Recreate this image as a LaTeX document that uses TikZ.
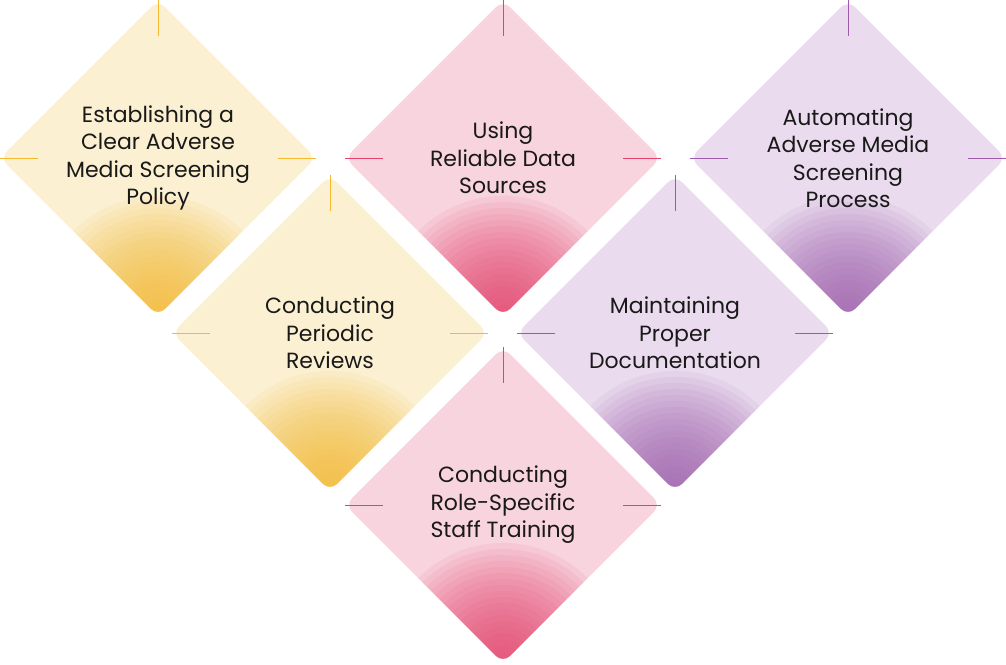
\documentclass[tikz,border=0pt]{standalone}
\usepackage{fontspec}
\setmainfont{Poppins}
\usetikzlibrary{shapes.geometric}

\definecolor{ylight}{HTML}{FCF0D2}
\definecolor{ydark}{HTML}{F4B92F}
\definecolor{plight}{HTML}{F8D4DE}
\definecolor{pdark}{HTML}{E6406B}
\definecolor{vlight}{HTML}{EADCEE}
\definecolor{vdark}{HTML}{9E5BAC}

\tikzset{
  card/.style 2 args={diamond,minimum width=316pt,minimum height=316pt,inner sep=0pt,
    rounded corners=10pt,fill=#1,
    path picture={\foreach \r in {6,12,...,120}
      \fill[#2,opacity=0.075] (path picture bounding box.south) circle (\r pt);}},
  caption/.style={align=center,font=\fontsize{22}{27.5}\selectfont,text=black!90},
  tick/.style={line width=0.6pt}
}

\begin{document}
\begin{tikzpicture}[x=1pt,y=-1pt]
\useasboundingbox (0,0) rectangle (1006,664);

\node (policy) at (158,158) [card={ylight}{ydark}] {};
\node (sources) at (503,158) [card={plight}{pdark}] {};
\node (automate) at (848,158) [card={vlight}{vdark}] {};
\node (reviews) at (330,333) [card={ylight}{ydark}] {};
\node (docs) at (675,333) [card={vlight}{vdark}] {};
\node (training) at (503,505) [card={plight}{pdark}] {};

\node (policy-text) at (policy) [caption] {Establishing a\\Clear Adverse\\Media Screening\\Policy};
\node (sources-text) at (sources) [caption] {Using\\Reliable Data\\Sources};
\node (automate-text) at (automate) [caption] {Automating\\Adverse Media\\Screening\\Process};
\node (reviews-text) at (reviews) [caption] {Conducting\\Periodic\\Reviews};
\node (docs-text) at (docs) [caption] {Maintaining\\Proper\\Documentation};
\node (training-text) at (training) [caption] {Conducting\\Role-Specific\\Staff Training};

\draw [tick,ydark] (policy.north) -- ++(0,36) (policy.west) -- ++(38,0) (policy.east) -- ++(-38,0);
\draw [tick,pdark] (sources.north) -- ++(0,36) (sources.west) -- ++(38,0) (sources.east) -- ++(-38,0);
\draw [tick,vdark] (automate.north) -- ++(0,36) (automate.west) -- ++(38,0) (automate.east) -- ++(-38,0);
\draw [tick,ydark] (reviews.north) -- ++(0,36) (reviews.west) -- ++(38,0) (reviews.east) -- ++(-38,0);
\draw [tick,vdark] (docs.north) -- ++(0,36) (docs.west) -- ++(38,0) (docs.east) -- ++(-38,0);
\draw [tick,pdark] (training.north) -- ++(0,36) (training.west) -- ++(38,0) (training.east) -- ++(-38,0);
\end{tikzpicture}
\end{document}
